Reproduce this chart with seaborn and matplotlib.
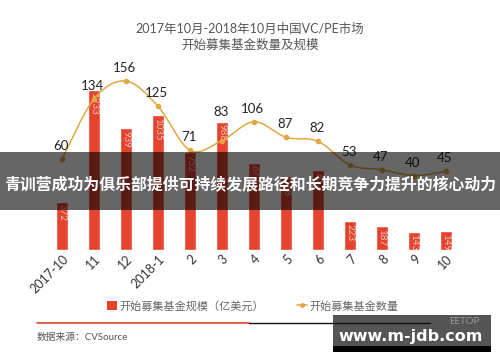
import numpy as np
import pandas as pd
import matplotlib
matplotlib.use("Agg")
import matplotlib.pyplot as plt
import seaborn as sns
from matplotlib.patches import Patch, Rectangle, PathPatch
from matplotlib.path import Path
from matplotlib.lines import Line2D

months = ["2017-10", "11", "12", "2018-1", "2", "3", "4", "5", "6", "7", "8", "9", "10"]
fund_size = [372, 1233, 939, 1035, 752, 988, 673, 568, 612, 223, 187, 143, 149]
fund_count = [60, 134, 156, 125, 71, 83, 106, 87, 82, 53, 47, 40, 45]
title_lines = ["2017年10月-2018年10月中国VC/PE市场", "开始募集基金数量及规模"]
legend_labels = ["开始募集基金规模（亿美元）", "开始募集基金数量"]
source_text = "数据来源：CVSource"
banner_text = "青训营成功为俱乐部提供可持续发展路径和长期竞争力提升的核心动力"
watermark_text = "www.m-jdb.com"

sns.set_theme(style="white")
plt.rcParams['font.family'] = ['Lato', 'Noto Sans CJK SC', 'DejaVu Sans']

BAR = "#e5432e"
LINE = "#e0a843"

df = pd.DataFrame({"month": months, "size": fund_size, "count": fund_count})

fig = plt.figure(figsize=(5.0, 3.62), dpi=100)
ax = fig.add_axes([0.092, 0.309, 0.832, 0.498])
sns.barplot(data=df, x="month", y="size", color=BAR, width=0.4, saturation=1, ax=ax)
ax.set_ylim(0, 1385)
ax.set_xlim(-0.5, 12.5)
for i, v in enumerate(fund_size):
    ax.annotate(str(v), (i, v), xytext=(0, -2), textcoords="offset points",
                ha="center", va="top", rotation=270, fontsize=7, color="#f5c4b8")
ax.set_xlabel("")
ax.set_ylabel("")
ax.set_yticks([])
ax.tick_params(axis="x", length=0, pad=2, labelsize=9, labelcolor="#333333")
for lab in ax.get_xticklabels():
    lab.set_rotation(45)
    lab.set_ha("right")
    lab.set_rotation_mode("anchor")
for s in ax.spines.values():
    s.set_visible(False)

ax2 = ax.twinx()
sns.pointplot(data=df, x="month", y="count", color=LINE, markers="o",
              markersize=2, linestyles="none", ax=ax2)
ax2.set_ylim(-51.7, 169.8)
ax2.set_xlim(-0.5, 12.5)
ax2.set_yticks([])
ax2.set_ylabel("")
for s in ax2.spines.values():
    s.set_visible(False)

# smoothed line through the data points (Catmull-Rom rendered as Bezier curves)
pts = np.column_stack([np.arange(len(fund_count)), np.asarray(fund_count, float)])
ext = np.vstack([pts[0], pts, pts[-1]])
verts = [tuple(pts[0])]
codes = [Path.MOVETO]
for k in range(len(pts) - 1):
    p0, p1, p2, p3 = ext[k], ext[k + 1], ext[k + 2], ext[k + 3]
    c1 = p1 + (p2 - p0) / 6.0
    c2 = p2 - (p3 - p1) / 6.0
    verts += [tuple(c1), tuple(c2), tuple(p2)]
    codes += [Path.CURVE4] * 3
ax2.add_patch(PathPatch(Path(verts, codes), facecolor="none", edgecolor=LINE, lw=1.1, zorder=3))

label_dy = [5, 5, 5, 5, 5, 16, 5, 5, 5, 5, 5, 5, 5]
for i, v in enumerate(fund_count):
    ax2.annotate(str(v), (i, v), xytext=(-1, label_dy[i]), textcoords="offset points",
                 ha="center", va="bottom", fontsize=9.5, color="#222222")

# title
fig.text(0.5, 1 - 29 / 362, title_lines[0], ha="center", va="center", fontsize=9, color="#555555")
fig.text(0.5, 1 - 45 / 362, title_lines[1], ha="center", va="center", fontsize=9, color="#555555")

# legend
handles = [Patch(facecolor=BAR, edgecolor="none"),
           Line2D([0], [0], color=LINE, marker="o", markersize=2.5, linewidth=1.2)]
fig.legend(handles, legend_labels, loc="center", bbox_to_anchor=(0.505, 1 - 306 / 362),
           ncol=2, frameon=False, fontsize=8, labelcolor="#666666",
           handlelength=0.9, handleheight=0.9, handletextpad=0.2, columnspacing=3.0)

# bottom rule
fig.add_artist(Line2D([37 / 500, 249 / 500], [1 - 323 / 362] * 2, color="#d9442f", lw=1.2))
fig.add_artist(Line2D([249 / 500, 430 / 500], [1 - 323 / 362] * 2, color="#111111", lw=1.0))
fig.text(37 / 500, 1 - 337 / 362, source_text, ha="left", va="center", fontsize=7, color="#555555")

# watermark
fig.add_artist(Rectangle((333 / 500, 1 - 352 / 362), 158 / 500, 37 / 362,
                         transform=fig.transFigure, facecolor="#555555", edgecolor="none", zorder=5))
fig.add_artist(Rectangle((333 / 500, 1 - 352 / 362), 158 / 500, 6 / 362,
                         transform=fig.transFigure, facecolor="#000000", edgecolor="none", zorder=5))
fig.add_artist(Line2D([333 / 500, 430 / 500], [1 - 323 / 362] * 2, color="#111111", lw=1.0, zorder=6))
fig.text(480 / 500, 1 - 321 / 362, "EETOP", ha="right", va="center", fontsize=7,
         color="#999999", zorder=6)
fig.text(411 / 500, 1 - 336 / 362, watermark_text, ha="center", va="center", fontsize=11.5,
         fontweight="bold", color="white", family=["DejaVu Sans"], zorder=7)

# banner
fig.add_artist(Rectangle((0, 1 - 210 / 362), 1, 58 / 362, transform=fig.transFigure,
                         facecolor="black", alpha=0.6, edgecolor="none", zorder=10))
fig.text(0.5, 1 - 184 / 362, banner_text, ha="center", va="center", fontsize=11.45,
         fontweight="bold", color="white", family=["Noto Sans CJK SC", "DejaVu Sans"], zorder=11)

fig.savefig("out.png", dpi=100)
